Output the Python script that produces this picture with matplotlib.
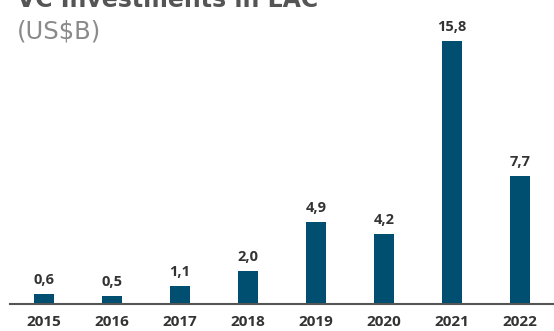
import matplotlib
matplotlib.use('Agg')
import matplotlib.pyplot as plt

# VC investments in LAC, US$B
years = ["2015", "2016", "2017", "2018", "2019", "2020", "2021", "2022"]
values = [0.6, 0.5, 1.1, 2.0, 4.9, 4.2, 15.8, 7.7]
value_labels = ["0,6", "0,5", "1,1", "2,0", "4,9", "4,2", "15,8", "7,7"]

BAR_COLOR = "#004f71"
TEXT_COLOR = "#333333"

plt.rcParams['font.family'] = ['Open Sans', 'DejaVu Sans']

fig = plt.figure(figsize=(5.54, 3.31), dpi=100)
# axes in pixel terms: x 10..554, y bottom at 304
ax = fig.add_axes([10 / 554, 27 / 331, 544 / 554, 284 / 331])

x = range(len(years))
ax.bar(x, values, width=0.3, color=BAR_COLOR)
ax.set_xlim(-0.5, 7.5)
ax.set_ylim(0, 284 / 16.65)

for i, (v, lab) in enumerate(zip(values, value_labels)):
    ax.annotate(lab, (i, v), xytext=(0, 5), textcoords="offset points",
                ha="center", va="bottom", fontsize=10.5, fontweight="bold",
                color=TEXT_COLOR)

ax.set_xticks(list(x))
ax.set_xticklabels(years, fontsize=11, fontweight="bold", color=TEXT_COLOR)
ax.tick_params(axis="x", length=0, pad=8)
ax.set_yticks([])
for side in ["top", "right", "left"]:
    ax.spines[side].set_visible(False)
ax.spines["bottom"].set_color("#555555")
ax.spines["bottom"].set_linewidth(1.5)

# title sits mostly above the top edge, as in the original crop
fig.text(17 / 554, 1 - 7 / 331, "VC Investments in LAC", fontsize=17,
         fontweight="bold", color="#555555", ha="left", va="baseline",
         family="DejaVu Sans")
fig.text(17 / 554, 1 - 43 / 331, "(US$B)", fontsize=17.5, color="#8a8a8a",
         ha="left", va="bottom", family="DejaVu Sans")

fig.savefig("out.png", dpi=100)
